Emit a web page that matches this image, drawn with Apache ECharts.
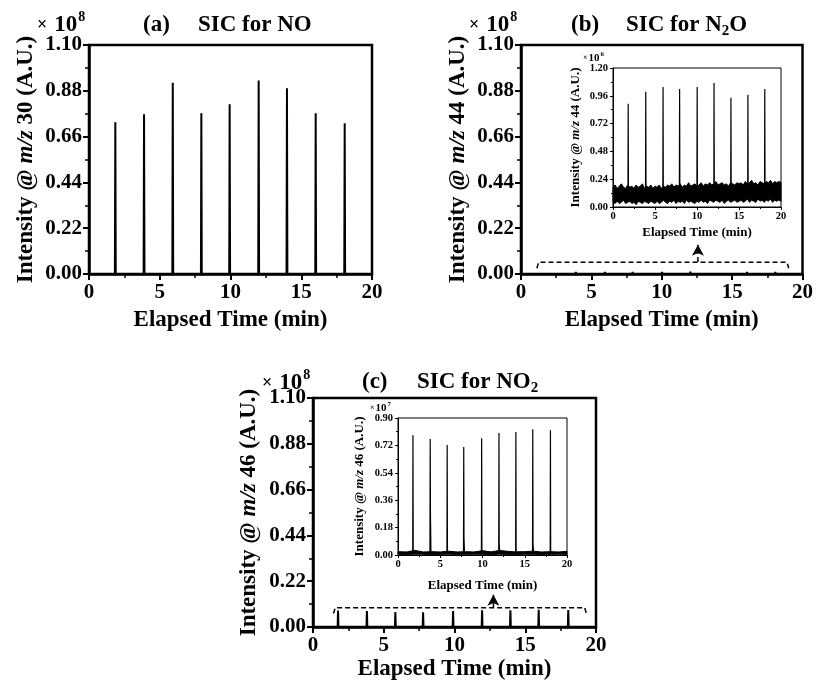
<!DOCTYPE html>
<html><head><meta charset="utf-8">
<script src="https://cdn.jsdelivr.net/npm/echarts@6/dist/echarts.min.js"></script>
<style>html,body{margin:0;padding:0;background:#fff}#c{width:816px;height:687px}</style>
</head><body><div id="c"></div>
<script>
// ---------- data ----------
const xTicks = [0, 5, 10, 15, 20];                       // min
const mainYTicks = [0.00, 0.22, 0.44, 0.66, 0.88, 1.10]; // x10^8
const insetBYTicks = [0.00, 0.24, 0.48, 0.72, 0.96, 1.20]; // x10^6
const insetCYTicks = [0.00, 0.18, 0.36, 0.54, 0.72, 0.90]; // x10^7

// (a) NO, m/z 30, x10^8
const noTimes = [1.86, 3.89, 5.92, 7.94, 9.94, 11.99, 13.99, 16.02, 18.07];
const noPeaks = [0.729, 0.767, 0.919, 0.772, 0.815, 0.930, 0.892, 0.772, 0.724];

// (b) N2O, m/z 44, x10^6 (inset)
const n2oTimes = [1.81, 3.90, 5.96, 7.93, 10.02, 12.03, 14.04, 16.06, 18.07];
const n2oPeaks = [0.892, 0.996, 1.036, 1.019, 1.036, 1.070, 0.944, 0.970, 1.019];
const n2oNoiseTimes = [0,0.25,0.5,0.75,1,1.25,1.5,1.75,2,2.25,2.5,2.75,3,3.25,3.5,3.75,4,4.25,4.5,4.75,5,
  5.25,5.5,5.75,6,6.25,6.5,6.75,7,7.25,7.5,7.75,8,8.25,8.5,8.75,9,9.25,9.5,9.75,10,
  10.25,10.5,10.75,11,11.25,11.5,11.75,12,12.25,12.5,12.75,13,13.25,13.5,13.75,14,14.25,14.5,14.75,15,
  15.25,15.5,15.75,16,16.25,16.5,16.75,17,17.25,17.5,17.75,18,18.25,18.5,18.75,19,19.25,19.5,19.75,20];
const n2oNoiseLow = [0.04,0.03,0.05,0.03,0.04,0.06,0.03,0.04,0.05,0.03,0.04,0.02,0.05,0.04,0.03,0.05,0.04,0.03,0.05,0.04,0.03,
  0.05,0.03,0.04,0.06,0.04,0.03,0.05,0.04,0.06,0.03,0.05,0.04,0.05,0.03,0.06,0.04,0.05,0.04,0.03,0.05,
  0.04,0.06,0.04,0.05,0.03,0.06,0.05,0.04,0.06,0.05,0.04,0.06,0.03,0.05,0.06,0.04,0.05,0.06,0.04,0.05,
  0.06,0.04,0.05,0.07,0.04,0.06,0.05,0.04,0.07,0.05,0.06,0.04,0.06,0.05,0.07,0.04,0.06,0.05,0.06,0.05];
const n2oNoiseHigh = [0.17,0.19,0.16,0.18,0.20,0.17,0.16,0.19,0.17,0.18,0.16,0.19,0.17,0.18,0.20,0.16,0.18,0.17,0.19,0.16,0.18,
  0.17,0.19,0.16,0.18,0.17,0.19,0.18,0.20,0.17,0.19,0.18,0.20,0.17,0.19,0.18,0.21,0.18,0.19,0.20,0.18,
  0.19,0.21,0.18,0.20,0.19,0.21,0.19,0.20,0.22,0.19,0.20,0.21,0.19,0.20,0.18,0.21,0.20,0.19,0.21,0.20,
  0.21,0.19,0.22,0.20,0.21,0.23,0.20,0.21,0.19,0.22,0.21,0.20,0.22,0.21,0.23,0.20,0.22,0.21,0.22,0.21];
const n2oPeakBase = 0.12;

// (c) NO2, m/z 46, x10^7 (inset)
const no2Times = [1.77, 3.81, 5.82, 7.78, 9.90, 11.95, 13.95, 15.95, 18.04];
const no2Peaks = [0.786, 0.762, 0.723, 0.710, 0.767, 0.802, 0.808, 0.826, 0.819];
const no2Shoulders = [0.030, 0.273, 0.015, 0.114, 0.025, 0.074, 0.020, 0.081, 0.015];
const no2NoiseTimes = [0,1,2,3,4,5,6,7,8,9,10,11,12,13,14,15,16,17,18,19,20];
const no2NoiseLow  = [0.005,0.004,0.006,0.005,0.004,0.005,0.006,0.004,0.005,0.006,0.005,0.004,0.006,0.005,0.004,0.006,0.005,0.004,0.005,0.006,0.005];
const no2NoiseHigh = [0.022,0.020,0.030,0.020,0.022,0.020,0.025,0.020,0.022,0.020,0.028,0.020,0.030,0.024,0.020,0.022,0.025,0.020,0.022,0.020,0.024];
const no2Base = 0.012;

// zoom brackets (main-axis units, x10^8) and arrows
const bracketBX = [1.13, 1.25, 18.90, 19.02];
const bracketBY = [0.028, 0.056, 0.056, 0.028];
const arrowBX = [12.57, 12.57];
const arrowBY = [0.058, 0.140];
const bracketCX = [1.45, 1.57, 19.20, 19.32];
const bracketCY = [0.065, 0.093, 0.093, 0.065];
const arrowCX = [12.75, 12.75];
const arrowCY = [0.095, 0.155];

// ---------- helpers ----------
const F = '"Liberation Serif","Times New Roman",serif';
const K = '#000';
const cv = document.createElement('canvas').getContext('2d');
function tw(t, s) { cv.font = 'bold ' + s + 'px "Liberation Serif"'; return cv.measureText(t).width; }

function peakLine(times, heights, base, scale, shoulders) {
  const d = [[0, base]];
  times.forEach((t, i) => {
    const h = heights[i] * scale;
    d.push([t - 0.03, base], [t, h]);
    if (shoulders) {
      const s = shoulders[i] * scale;
      d.push([t + 0.03, s], [t + 0.06, s], [t + 0.09, base]);
    } else {
      d.push([t + 0.03, base]);
    }
  });
  d.push([20, base]);
  return d;
}
const zip = (a, b) => a.map((v, i) => [v, b[i]]);

function xAxis(gi, inset, gap) {
  return {
    type: 'value', gridIndex: gi, min: xTicks[0], max: xTicks[xTicks.length - 1], interval: xTicks[1] - xTicks[0],
    axisLine: { show: true, onZero: false, lineStyle: { color: K, width: inset ? 1 : 2.5 } },
    axisTick: { show: true, inside: false, length: inset ? 3 : 6, lineStyle: { color: K, width: inset ? 1 : 2 } },
    minorTick: { show: true, splitNumber: 2, length: inset ? 2 : 4, lineStyle: { color: K, width: inset ? 1 : 1.5 } },
    splitLine: { show: false }, minorSplitLine: { show: false },
    axisLabel: { color: K, fontFamily: F, fontWeight: 'bold', fontSize: inset ? 10.5 : 21, margin: inset ? 4 : 8 },
    name: 'Elapsed Time (min)', nameLocation: 'middle', nameGap: gap,
    nameTextStyle: { color: K, fontFamily: F, fontWeight: 'bold', fontSize: inset ? 13 : 23 }
  };
}
function yAxis(gi, inset, ticks, mz, gap) {
  const fs = inset ? 13 : 23;
  return {
    type: 'value', gridIndex: gi, min: ticks[0], max: ticks[ticks.length - 1], interval: ticks[1] - ticks[0],
    axisLine: { show: true, onZero: false, lineStyle: { color: K, width: inset ? 1 : 2.5 } },
    axisTick: { show: true, inside: false, length: inset ? 3 : 6, lineStyle: { color: K, width: inset ? 1 : 2 } },
    minorTick: { show: true, splitNumber: 2, length: inset ? 2 : 4, lineStyle: { color: K, width: inset ? 1 : 1.5 } },
    splitLine: { show: false }, minorSplitLine: { show: false },
    axisLabel: { color: K, fontFamily: F, fontWeight: 'bold', fontSize: inset ? 10.5 : 21, margin: inset ? 5 : 7,
      formatter: v => v.toFixed(2) },
    name: 'Intensity @ {i|m/z} ' + mz + ' (A.U.)', nameLocation: 'middle', nameGap: gap,
    nameTextStyle: { color: K, fontFamily: F, fontWeight: 'bold', fontSize: fs,
      rich: { i: { fontStyle: 'italic', fontWeight: 'bold', fontFamily: F, fontSize: fs, color: K } } }
  };
}
function txt(x, y, t, s, extra) {
  return Object.assign({ type: 'text', x: x, y: y, z: 50,
    style: { text: t, fill: K, font: 'bold ' + s + 'px "Liberation Serif"', verticalAlign: 'middle', align: 'left' } }, extra || {});
}
function mult(x, y, exp, big) {
  const s1 = big ? 18 : 8, s2 = big ? 23 : 11, s3 = big ? 14 : 7;
  const gx = big ? 7 : 1;
  const w1 = tw('×', s1), w2 = tw('10', s2);
  return [txt(x, y, '×', s1), txt(x + w1 + gx, y, '10', s2), txt(x + w1 + gx + w2 + 1, y - (big ? 8 : 4), exp, s3)];
}
function title(xl, xr, y, lab, main, sub, tail) {
  const out = [txt(xl, y, lab, 23), txt(xr, y, main, 23)];
  if (sub) {
    const x2 = xr + tw(main, 23);
    out.push(txt(x2, y + 6, sub, 15));
    out.push(txt(x2 + tw(sub, 15), y, tail, 23));
  }
  return out;
}
function lineS(xi, yi, data, w, extra) {
  return Object.assign({ type: 'line', xAxisIndex: xi, yAxisIndex: yi, data: data, symbol: 'none',
    lineStyle: { color: K, width: w }, itemStyle: { color: K }, animation: false, silent: true, z: 3 }, extra || {});
}
function bandS(xi, yi, xs, lo, hi) {
  return {
    type: 'custom', xAxisIndex: xi, yAxisIndex: yi, animation: false, silent: true, z: 2,
    data: [[xs[0], lo[0]]],
    renderItem: function (params, api) {
      const pts = [];
      xs.forEach((x, i) => pts.push(api.coord([x, hi[i]])));
      for (let i = xs.length - 1; i >= 0; i--) pts.push(api.coord([xs[i], lo[i]]));
      return { type: 'polygon', shape: { points: pts }, style: { fill: K, stroke: K, lineWidth: 1 } };
    }
  };
}
const DASH = [5, 3];
function arrowS(xi, yi, xs, ys) {
  return {
    type: 'line', xAxisIndex: xi, yAxisIndex: yi, animation: false, silent: true, z: 4,
    lineStyle: { color: K, width: 1.5, type: DASH }, itemStyle: { color: K },
    showSymbol: true,
    data: [{ value: [xs[0], ys[0]], symbol: 'none' }, { value: [xs[1], ys[1]], symbol: 'arrow', symbolSize: [9, 11] }]
  };
}

const chart = echarts.init(document.getElementById('c'), null, { renderer: 'canvas' });
const mainGrid = { show: true, borderColor: K, borderWidth: 2.5, backgroundColor: 'transparent', containLabel: false };
const insetGrid = { show: true, borderColor: K, borderWidth: 1, backgroundColor: 'transparent', containLabel: false };

const option = {
  backgroundColor: '#fff',
  animation: false,
  grid: [
    Object.assign({ left: 89, top: 45, width: 283, height: 229 }, mainGrid),
    Object.assign({ left: 521, top: 45, width: 282, height: 229 }, mainGrid),
    Object.assign({ left: 613, top: 68, width: 168, height: 139 }, insetGrid),
    Object.assign({ left: 313, top: 398, width: 283, height: 229 }, mainGrid),
    Object.assign({ left: 398, top: 418, width: 169, height: 137 }, insetGrid)
  ],
  xAxis: [xAxis(0, false, 35), xAxis(1, false, 35), xAxis(2, true, 19), xAxis(3, false, 31), xAxis(4, true, 24)],
  yAxis: [
    yAxis(0, false, mainYTicks, 30, 51),
    yAxis(1, false, mainYTicks, 44, 51),
    yAxis(2, true, insetBYTicks, 44, 31),
    yAxis(3, false, mainYTicks, 46, 52),
    yAxis(4, true, insetCYTicks, 46, 32)
  ],
  series: [
    // (a)
    lineS(0, 0, peakLine(noTimes, noPeaks, 0, 1), 2),
    // (b) main: N2O peaks are x10^6 -> x10^8
    lineS(1, 1, peakLine(n2oTimes, n2oPeaks, 0, 0.01), 2),
    lineS(1, 1, zip(bracketBX, bracketBY), 1.5, { lineStyle: { color: K, width: 1.5, type: DASH } }),
    arrowS(1, 1, arrowBX, arrowBY),
    // (b) inset noise band + peaks
    bandS(2, 2, n2oNoiseTimes, n2oNoiseLow, n2oNoiseHigh),
    lineS(2, 2, peakLine(n2oTimes, n2oPeaks, n2oPeakBase, 1), 1.2),
    // (c) main: NO2 peaks are x10^7 -> x10^8
    lineS(3, 3, peakLine(no2Times, no2Peaks, 0, 0.1), 2),
    lineS(3, 3, zip(bracketCX, bracketCY), 1.5, { lineStyle: { color: K, width: 1.5, type: DASH } }),
    arrowS(3, 3, arrowCX, arrowCY),
    // (c) inset
    bandS(4, 4, no2NoiseTimes, no2NoiseLow, no2NoiseHigh),
    lineS(4, 4, peakLine(no2Times, no2Peaks, no2Base, 1, no2Shoulders), 1.2)
  ],
  graphic: [].concat(
    title(143, 198, 25, '(a)', 'SIC for NO'),
    title(571, 626, 25, '(b)', 'SIC for N', '2', 'O'),
    title(362, 417, 382, '(c)', 'SIC for NO', '2', ''),
    mult(37, 25, '8', true),
    mult(469, 25, '8', true),
    mult(262, 383, '8', true),
    mult(583, 58, '6', false),
    mult(370, 408, '7', false)
  )
};
chart.setOption(option);
</script>
</body></html>
